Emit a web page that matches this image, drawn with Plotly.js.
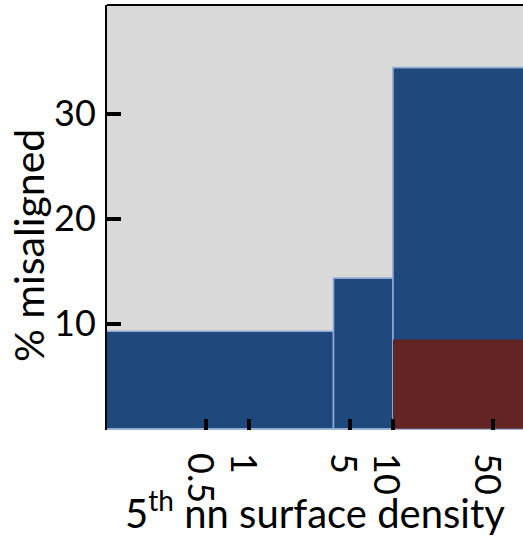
<!DOCTYPE html>
<html>
<head>
<meta charset="utf-8">
<script src="https://cdn.plot.ly/plotly-3.0.1.min.js"></script>
<style>html,body{margin:0;padding:0;background:#fff}</style>
</head>
<body>
<div id="chart" style="width:523px;height:537px"></div>
<script>
// Bins of 5th nearest-neighbour surface density (log scale)
const binLow  = [0.1, 3.85, 10];
const binHigh = [3.85, 10, 200];
// % misaligned, all galaxies per bin
const pctAll  = [9.3, 14.35, 34.4];
// overlaid sub-sample in highest-density bin
const redLow  = [10];
const redHigh = [200];
const pctRed  = [8.5];
// tick labels
const xTickVals = [0.5, 1, 5, 10, 50];
const xTickText = ['0.5', '1', '5', '10', '50'];
const yTickVals = [10, 20, 30];
const yTickText = ['10', '20', '30'];

function box(lo, hi, h) {
  return { x: [lo, lo, hi, hi, lo], y: [0, h, h, 0, 0] };
}

const traces = [];
for (let i = 0; i < pctAll.length; i++) {
  const b = box(binLow[i], binHigh[i], pctAll[i]);
  traces.push({
    type: 'scatter', mode: 'lines', x: b.x, y: b.y,
    fill: 'toself', fillcolor: '#1F497D',
    line: { color: '#8EAAD6', width: 1.6 },
    hoverinfo: 'skip', showlegend: false
  });
}
for (let i = 0; i < pctRed.length; i++) {
  const b = box(redLow[i], redHigh[i], pctRed[i]);
  traces.push({
    type: 'scatter', mode: 'lines', x: b.x, y: b.y,
    fill: 'toself', fillcolor: '#632523',
    line: { color: '#632523', width: 0 },
    hoverinfo: 'skip', showlegend: false
  });
}

const FONT = 'Lato, sans-serif';

const layout = {
  width: 523, height: 537,
  margin: { l: 107, r: 0, t: 5, b: 107, pad: 0 },
  paper_bgcolor: '#ffffff',
  plot_bgcolor: '#D9D9D9',
  showlegend: false,
  font: { family: FONT, color: '#000000' },
  xaxis: {
    type: 'log',
    range: [-0.993, 1.906],
    tickmode: 'array', tickvals: xTickVals, ticktext: xTickText,
    tickangle: 90,
    ticks: 'inside', ticklen: 11, tickwidth: 4, tickcolor: '#000000',
    ticklabelstandoff: 22, ticklabelshift: -7,
    tickfont: { family: FONT, size: 36, color: '#000000' },
    showgrid: false, zeroline: false, showline: false,
    title: { text: '5<sup>th</sup> nn surface density', font: { family: FONT, size: 40, color: '#000000' }, standoff: 0 }
  },
  yaxis: {
    range: [-0.11, 40.36],
    tickmode: 'array', tickvals: yTickVals, ticktext: yTickText,
    ticks: 'inside', ticklen: 14, tickwidth: 4, tickcolor: '#000000',
    ticklabelstandoff: 2,
    tickfont: { family: FONT, size: 36, color: '#000000' },
    showgrid: false, zeroline: false,
    showline: true, linecolor: '#000000', linewidth: 2
  },
  shapes: [{
    type: 'line', xref: 'paper', yref: 'paper', x0: 0, x1: 1, y0: 1, y1: 1,
    line: { color: '#000000', width: 2 }
  }],
  annotations: [{
    text: '% misaligned', textangle: -90,
    xref: 'paper', yref: 'paper', x: -0.19, y: 0.435,
    xanchor: 'center', yanchor: 'middle', showarrow: false,
    font: { family: FONT, size: 41, color: '#000000' }
  }]
};

Plotly.newPlot('chart', traces, layout, { staticPlot: true, displayModeBar: false });
</script>
</body>
</html>
